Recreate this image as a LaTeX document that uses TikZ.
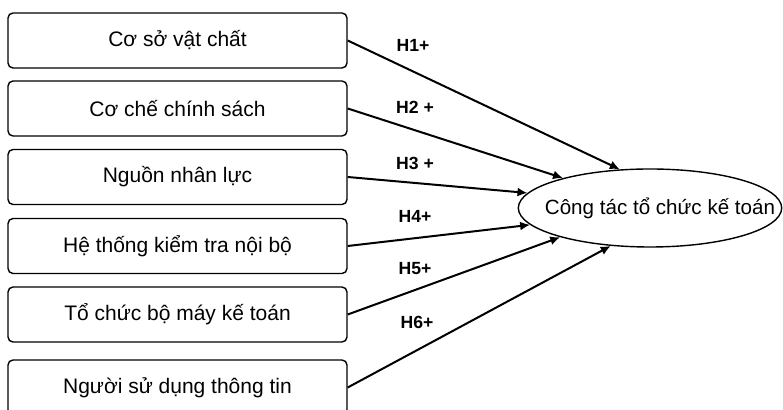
\documentclass[tikz,border=0pt]{standalone}
\usepackage{fontspec}
\setmainfont{Liberation Sans}
\usetikzlibrary{arrows.meta,shapes.geometric}
\begin{document}
\begin{tikzpicture}[x=0.5pt, y=-0.5pt,
    factor/.style={draw, line width=0.7pt, rounded corners=2.5pt, minimum width=169.5pt, minimum height=27.5pt, inner sep=0pt, font=\fontsize{10.5}{12}\selectfont},
    outcome/.style={draw, ellipse, line width=0.7pt, minimum width=131pt, minimum height=39pt, inner xsep=-16pt, inner ysep=0pt, font=\fontsize{10.3}{12}\selectfont},
    hyp/.style={font=\fontsize{8.8}{10}\selectfont\bfseries, inner sep=0pt},
    link/.style={line width=1pt, -{Latex[length=5pt,width=4.5pt]}}]
    \useasboundingbox (0,0) rectangle (783,410);

    % Factors
    \node[factor] (b1) at (177.5,40.5) {Cơ sở vật chất};
    \node[factor] (b2) at (177.5,108.5) {Cơ chế chính sách};
    \node[factor] (b3) at (177.5,177) {Nguồn nhân lực};
    \node[factor] (b4) at (177.5,246) {Hệ thống kiểm tra nội bộ};
    \node[factor] (b5) at (177.5,314.5) {Tổ chức bộ máy kế toán};
    \node[factor] (b6) at (177.5,387.5) {Người sử dụng thông tin};

    % Outcome
    \node[outcome] (ct) at (650,208) {\hspace{10pt}Công tác tổ chức kế toán};

    % Hypotheses
    \draw[link] (b1.east) -- (ct.128.7);
    \draw[link] (b2.east) -- (ct.161);
    \draw[link] (b3.east) -- (ct.173);
    \draw[link] (b4.east) -- (ct.188);
    \draw[link] (b5.east) -- (ct.198.4);
    \draw[link] (b6.east) -- (ct.224);

    % Labels
    \node[hyp] (h1) at (413,45) {H1+};
    \node[hyp] (h2) at (415,107) {H2 +};
    \node[hyp] (h3) at (415,163) {H3 +};
    \node[hyp] (h4) at (415,216) {H4+};
    \node[hyp] (h5) at (415,269) {H5+};
    \node[hyp] (h6) at (417,322) {H6+};
\end{tikzpicture}
\end{document}
